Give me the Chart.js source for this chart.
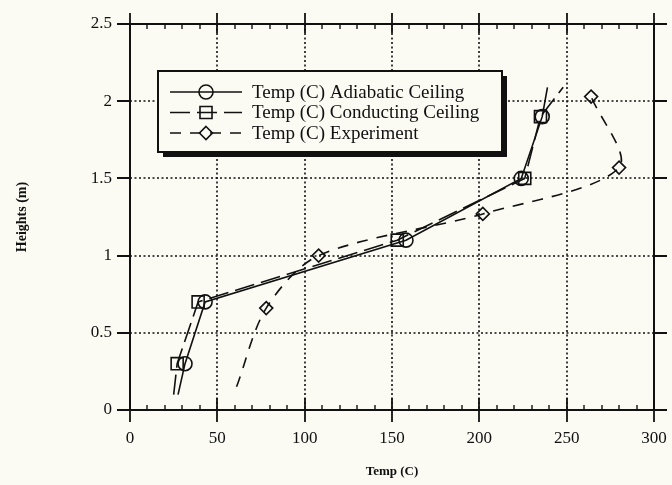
<!DOCTYPE html>
<html>
<head>
<meta charset="utf-8">
<script src="https://cdn.jsdelivr.net/npm/chart.js@4.4.0/dist/chart.umd.min.js"></script>
<style>
  html, body { margin: 0; padding: 0; background: #fbfbf3; }
</style>
</head>
<body>
<canvas id="main-canvas" width="672" height="485"></canvas>
<script>
// values (first / last points are the fitted-line ends, no marker)
const adiaTemp   = [27.5, 31.5, 43, 158, 224, 236, 239];
const adiaHeight = [0.1, 0.3, 0.7, 1.1, 1.5, 1.9, 2.09];

const condTemp   = [25, 27, 39, 153, 226, 235, 248];
const condHeight = [0.1, 0.3, 0.7, 1.1, 1.5, 1.9, 2.09];

const expTemp    = [61, 78, 108, 202, 280, 264];
const expHeight  = [0.15, 0.66, 1.0, 1.27, 1.57, 2.03];

const xTicks = [0, 50, 100, 150, 200, 250, 300];
const yTicks = [0, 0.5, 1, 1.5, 2, 2.5];

const seriesNames = ['Temp (C) Adiabatic Ceiling', 'Temp (C) Conducting Ceiling', 'Temp (C) Experiment'];

const BG = '#fbfbf3';
const INK = '#111';
const SERIF = "'Liberation Serif', 'Times New Roman', serif";

function pairUp(xs, ys) {
    return xs.map((x, i) => ({ x: x, y: ys[i] }));
}

// no marker on the extrapolated ends of the fitted lines
function endsBare(r, both) {
    return ctx => {
        const n = ctx.dataset.data.length;
        if (ctx.dataIndex === 0) return 0;
        if (both && ctx.dataIndex === n - 1) return 0;
        return r;
    };
}

const styles = [
    { dash: [], style: 'circle', r: 7 },
    { dash: [20, 7], style: 'rect', r: 8.5 },
    { dash: [11, 9], style: 'rectRot', r: 6.5 }
];

function marker(ctx, st, x, y) {
    ctx.beginPath();
    if (st.style === 'circle') {
        ctx.arc(x, y, st.r, 0, Math.PI * 2);
    } else if (st.style === 'rect') {
        const s = st.r * Math.SQRT1_2;
        ctx.rect(x - s, y - s, 2 * s, 2 * s);
    } else {
        ctx.moveTo(x, y - st.r);
        ctx.lineTo(x + st.r, y);
        ctx.lineTo(x, y + st.r);
        ctx.lineTo(x - st.r, y);
        ctx.closePath();
    }
    ctx.stroke();
}

const paperPlugin = {
    id: 'paper',
    beforeDraw: chart => {
        const ctx = chart.ctx;
        ctx.save();
        ctx.fillStyle = BG;
        ctx.fillRect(0, 0, chart.width, chart.height);
        ctx.restore();
    },
    beforeDatasetsDraw: chart => {
        // dotted grid
        const { ctx, chartArea: a, scales } = chart;
        ctx.save();
        ctx.strokeStyle = INK;
        ctx.lineWidth = 1.6;
        ctx.setLineDash([2, 2.5]);
        xTicks.slice(1, -1).forEach(v => {
            const px = Math.round(scales.x.getPixelForValue(v));
            ctx.beginPath(); ctx.moveTo(px, a.top); ctx.lineTo(px, a.bottom); ctx.stroke();
        });
        yTicks.slice(1, -1).forEach(v => {
            const py = Math.round(scales.y.getPixelForValue(v));
            ctx.beginPath(); ctx.moveTo(a.left, py); ctx.lineTo(a.right, py); ctx.stroke();
        });
        ctx.restore();
    },
    afterDraw: chart => {
        const { ctx, chartArea: a, scales } = chart;
        ctx.save();
        ctx.strokeStyle = INK;
        ctx.setLineDash([]);

        // frame
        ctx.lineWidth = 2;
        ctx.strokeRect(a.left, a.top, a.right - a.left, a.bottom - a.top);

        // major ticks
        ctx.lineWidth = 1.8;
        xTicks.forEach(v => {
            const px = Math.round(scales.x.getPixelForValue(v));
            ctx.beginPath();
            ctx.moveTo(px, a.bottom - 12); ctx.lineTo(px, a.bottom + 12);
            ctx.moveTo(px, a.top - 11); ctx.lineTo(px, a.top + 9);
            ctx.stroke();
        });
        yTicks.forEach(v => {
            const py = Math.round(scales.y.getPixelForValue(v));
            ctx.beginPath();
            ctx.moveTo(a.left - 13, py); ctx.lineTo(a.left, py);
            ctx.moveTo(a.right, py); ctx.lineTo(a.right + 13, py);
            ctx.stroke();
        });
        // minor ticks every 10 on x
        ctx.lineWidth = 1.4;
        for (let v = 10; v < 300; v += 10) {
            if (v % 50 === 0) continue;
            const px = Math.round(scales.x.getPixelForValue(v));
            ctx.beginPath();
            ctx.moveTo(px, a.bottom); ctx.lineTo(px, a.bottom - 5);
            ctx.moveTo(px, a.top); ctx.lineTo(px, a.top + 5);
            ctx.stroke();
        }

        // legend box with drop shadow
        const L = 158, T = 71, W = 344, H = 81;
        ctx.fillStyle = INK;
        ctx.fillRect(L + 5, T + 5, W, H);
        ctx.fillStyle = BG;
        ctx.fillRect(L, T, W, H);
        ctx.lineWidth = 2;
        ctx.strokeRect(L, T, W, H);

        ctx.font = '19px ' + SERIF;
        ctx.textBaseline = 'middle';
        ctx.fillStyle = INK;
        seriesNames.forEach((name, i) => {
            const y = T + 21 + i * 20.5;
            const st = styles[i];
            ctx.lineWidth = 1.6;
            ctx.setLineDash(st.dash);
            ctx.beginPath(); ctx.moveTo(170, y); ctx.lineTo(242, y); ctx.stroke();
            ctx.setLineDash([]);
            marker(ctx, st, 206, y);
            ctx.fillText(name, 252, y + 1);
        });
        ctx.restore();
    }
};

const myChart = new Chart(document.getElementById('main-canvas'), {
    type: 'scatter',
    plugins: [paperPlugin],
    data: {
        datasets: [
            {
                label: seriesNames[0],
                data: pairUp(adiaTemp, adiaHeight),
                showLine: true,
                tension: 0,
                borderColor: INK,
                backgroundColor: 'transparent',
                borderWidth: 1.6,
                pointStyle: 'circle',
                pointRadius: endsBare(7, true),
                pointBorderWidth: 1.6
            },
            {
                label: seriesNames[1],
                data: pairUp(condTemp, condHeight),
                showLine: true,
                tension: 0,
                borderColor: INK,
                backgroundColor: 'transparent',
                borderWidth: 1.6,
                borderDash: styles[1].dash,
                pointStyle: 'rect',
                pointRadius: endsBare(8.5, true),
                pointBorderWidth: 1.6
            },
            {
                label: seriesNames[2],
                data: pairUp(expTemp, expHeight),
                showLine: true,
                tension: 0.3,
                borderColor: INK,
                backgroundColor: 'transparent',
                borderWidth: 1.6,
                borderDash: styles[2].dash,
                pointStyle: 'rectRot',
                pointRadius: endsBare(6.5, false),
                pointBorderWidth: 1.6
            }
        ]
    },
    options: {
        responsive: false,
        animation: false,
        layout: { padding: { top: 24, right: 18, left: 0, bottom: 0 } },
        plugins: {
            legend: { display: false },
            tooltip: { enabled: false }
        },
        scales: {
            x: {
                type: 'linear',
                min: 0,
                max: 300,
                afterBuildTicks: axis => axis.ticks = xTicks.map(v => ({ value: v })),
                afterFit: axis => {
                    axis.height = 75;
                    axis.paddingLeft = 0;
                    axis.paddingRight = 0;
                },
                grid: { display: false, drawTicks: false },
                border: { display: false },
                ticks: { color: INK, padding: 18, font: { family: SERIF, size: 17 } },
                title: {
                    display: true,
                    text: 'Temp (C)',
                    color: INK,
                    font: { family: SERIF, size: 13, weight: 'bold' },
                    padding: { top: 0, bottom: 6 }
                }
            },
            y: {
                type: 'linear',
                min: 0,
                max: 2.5,
                afterBuildTicks: axis => axis.ticks = yTicks.map(v => ({ value: v })),
                afterFit: axis => {
                    axis.width = 130;
                    axis.paddingTop = 0;
                    axis.paddingBottom = 0;
                },
                grid: { display: false, drawTicks: false },
                border: { display: false },
                ticks: {
                    color: INK,
                    padding: 18,
                    font: { family: SERIF, size: 17 },
                    callback: v => String(v)
                },
                title: {
                    display: true,
                    text: 'Heights (m)',
                    color: INK,
                    font: { family: SERIF, size: 14, weight: 'bold' },
                    padding: { top: 14, bottom: 0 }
                }
            }
        }
    }
});
</script>
</body>
</html>
